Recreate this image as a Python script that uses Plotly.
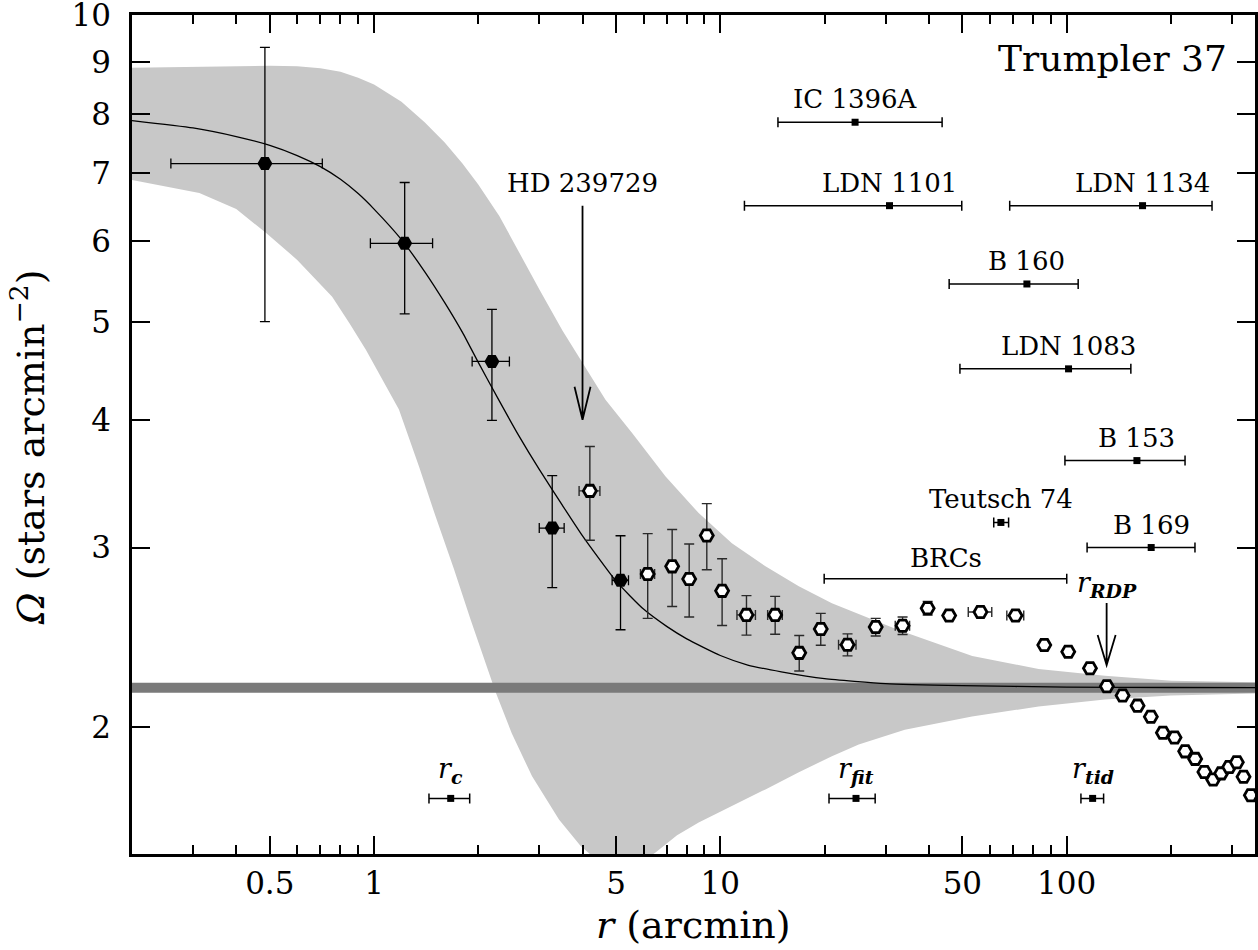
import numpy as np
import plotly.graph_objects as go

# ---------------- data ----------------
# inner (filled) profile points
r_inner = [0.484, 1.226, 2.19, 3.27, 5.15]
r_inner_err = [0.225, 0.25, 0.27, 0.27, 0.28]
dens_inner = [7.15, 5.97, 4.57, 3.135, 2.786]
dens_inner_err = [2.15, 0.88, 0.57, 0.395, 0.295]

# outer (open) profile points
r_outer = [4.20, 6.17, 7.26, 8.13, 9.14, 10.12, 11.9, 14.4, 16.9, 19.5, 23.3, 28.1,
           33.6, 39.7, 45.8, 56.4, 71.2, 86.2, 101.1, 116.8, 130.7, 145.1, 160.3,
           175.1, 189.7, 205.0, 220.0, 235.1, 250.0, 265.0, 279.5, 294.8, 310.2,
           324.3, 340.5]
r_outer_err = [0.29, 0.29, 0, 0, 0, 0, 0.73, 0.7, 0, 0, 1.35, 0, 1.6, 0, 0, 4.4, 4.0,
               0, 0, 0, 0, 0, 0, 0, 0, 0, 0, 0, 0, 0, 0, 0, 0, 0, 0]
dens_outer = [3.41, 2.826, 2.875, 2.794, 3.083, 2.72, 2.576, 2.576, 2.364, 2.495,
              2.408, 2.506, 2.514, 2.615, 2.572, 2.593, 2.572, 2.406, 2.370, 2.283,
              2.192, 2.147, 2.098, 2.046, 1.973, 1.952, 1.892, 1.860, 1.806, 1.775,
              1.800, 1.826, 1.846, 1.786, 1.713]
dens_outer_err = [0.36, 0.27, 0.25, 0.23, 0.23, 0.205, 0.115, 0.11, 0.095, 0.09,
                  0.06, 0.05, 0.05, 0.04, 0.02, 0.02, 0.02, 0, 0, 0, 0, 0, 0, 0, 0,
                  0, 0, 0, 0, 0, 0, 0, 0, 0, 0]

# King-profile fit curve
fit_r = [0.2, 0.3, 0.4, 0.5, 0.6, 0.7, 0.8, 0.9, 1.0, 1.2, 1.4, 1.6, 1.8, 2.0, 2.3,
         2.6, 3.0, 3.5, 4.0, 5.0, 6.0, 7.0, 8.0, 10, 12, 15, 20, 30, 50, 100, 200, 350]
fit_dens = [7.88, 7.75, 7.60, 7.45, 7.28, 7.10, 6.90, 6.68, 6.45, 6.02, 5.60, 5.22,
            4.88, 4.56, 4.18, 3.88, 3.58, 3.30, 3.08, 2.78, 2.61, 2.51, 2.44, 2.35,
            2.30, 2.265, 2.23, 2.205, 2.195, 2.188, 2.186, 2.185]

# 1-sigma envelope of the fit
env_up_r = [0.2, 0.3, 0.4, 0.5, 0.6, 0.7, 0.8, 0.9, 1.0, 1.2, 1.4, 1.6, 1.8, 2.0,
            2.3, 2.6, 3.0, 3.5, 4.0, 4.66, 5.57, 6.95, 8.66, 10.8, 13.5, 16.85, 21.0,
            26.2, 32.7, 53.4, 83, 129, 201, 350]
env_up = [8.88, 8.90, 8.91, 8.92, 8.91, 8.87, 8.80, 8.68, 8.55, 8.22, 7.85, 7.50,
          7.15, 6.82, 6.35, 5.88, 5.38, 4.90, 4.56, 4.19, 3.885, 3.523, 3.243, 3.03,
          2.875, 2.748, 2.645, 2.566, 2.49, 2.348, 2.279, 2.245, 2.219, 2.212]
env_lo_r = [0.2, 0.313, 0.4, 0.488, 0.6, 0.757, 0.85, 0.948, 1.05, 1.18, 1.35, 1.5,
            1.7, 1.9, 2.245, 2.5, 2.86, 3.42, 3.95, 4.5, 5.0, 5.7, 6.5, 7.5, 8.66,
            10.8, 13.5, 16.8, 21.0, 25.1, 34.1, 53.3, 83, 129, 200, 350]
env_lo = [6.89, 6.69, 6.45, 6.11, 5.75, 5.29, 4.98, 4.69, 4.40, 4.10, 3.60, 3.23,
          2.86, 2.55, 2.163, 1.97, 1.788, 1.622, 1.527, 1.47, 1.45, 1.46, 1.505,
          1.565, 1.611, 1.671, 1.736, 1.804, 1.871, 1.922, 1.987, 2.047, 2.094, 2.128,
          2.147, 2.157]

# background level
bg_level = 2.185
bg_halfwidth = 0.025
r_span = [0.2, 350]

# nearby objects (angular distance ranges)
obj_names = ["IC 1396A", "LDN 1101", "LDN 1134", "B 160", "LDN 1083", "B 153",
             "Teutsch 74", "B 169"]
obj_r = [24.5, 30.8, 165.7, 76.8, 101.3, 159.6, 64.6, 175.5]
obj_rmin = [14.67, 11.74, 68.5, 45.8, 49.2, 98.9, 61.6, 114.6]
obj_rmax = [43.7, 49.8, 263, 108, 153.3, 219.8, 68.0, 234.8]
obj_y = [7.85, 6.50, 6.50, 5.445, 4.494, 3.652, 3.175, 3.0]

brc_name = "BRCs"
brc_r = 44.7
brc_rmin = 19.95
brc_rmax = 100.1
brc_y = 2.796

# structural radii
rad_labels = ["c", "fit", "tid"]
rad_r = [1.665, 24.65, 118.9]
rad_rmin = [1.441, 20.6, 110.0]
rad_rmax = [1.889, 28.0, 127.9]
rad_y = 1.701

# arrows
hd_name = "HD 239729"
hd_r = 4.0
hd_tip = 4.006
hd_label_y = 6.84
rdp_r = 130.5
rdp_tip = 2.30
rdp_top = 2.645

x_major = [0.5, 1, 5, 10, 50, 100]
x_major_text = ["0.5", "1", "5", "10", "50", "100"]
x_minor = [0.3, 0.4, 0.6, 0.7, 0.8, 0.9, 2, 3, 4, 6, 7, 8, 9, 20, 30, 40, 60, 70,
           80, 90, 200, 300]
y_ticks = [2, 3, 4, 5, 6, 7, 8, 9, 10]

SERIF = "DejaVu Serif"
LIGHT = "#c8c8c8"
DARK = "#7a7a7a"

fig = go.Figure()

# envelope
fig.add_trace(go.Scatter(
    x=env_up_r + env_lo_r[::-1], y=env_up + env_lo[::-1],
    mode="lines", line=dict(width=0),
    fill="toself", fillcolor=LIGHT, hoverinfo="skip"))

# background band
fig.add_trace(go.Scatter(
    x=[r_span[0], r_span[1], r_span[1], r_span[0]],
    y=[bg_level - bg_halfwidth] * 2 + [bg_level + bg_halfwidth] * 2,
    mode="lines", line=dict(width=0), fill="toself", fillcolor=DARK,
    hoverinfo="skip"))

# fit
fig.add_trace(go.Scatter(
    x=fit_r, y=fit_dens, mode="lines",
    line=dict(color="black", width=1.3, shape="spline", smoothing=0.5)))


def seg(xc, xmin, xmax, yv, show_marker=True):
    xc = np.atleast_1d(xc).astype(float)
    xmin = np.atleast_1d(xmin).astype(float)
    xmax = np.atleast_1d(xmax).astype(float)
    return go.Scatter(
        x=xc, y=np.atleast_1d(yv).astype(float),
        mode="markers",
        marker=dict(symbol="square", size=7 if show_marker else 0.1, color="black",
                    line=dict(width=0)),
        error_x=dict(type="data", symmetric=False, array=xmax - xc,
                     arrayminus=xc - xmin, color="black", thickness=1.5, width=5))


fig.add_trace(seg(obj_r, obj_rmin, obj_rmax, obj_y))
fig.add_trace(seg([brc_r], [brc_rmin], [brc_rmax], [brc_y], show_marker=False))
fig.add_trace(seg(rad_r, rad_rmin, rad_rmax, [rad_y] * 3))

# filled points
fig.add_trace(go.Scatter(
    x=r_inner, y=dens_inner, mode="markers",
    marker=dict(symbol="hexagon2", size=15, color="black", line=dict(width=0)),
    error_y=dict(type="data", array=dens_inner_err, color="black", thickness=1.3, width=5),
    error_x=dict(type="data", array=r_inner_err, color="black", thickness=1.3, width=5)))

# open points
fig.add_trace(go.Scatter(
    x=r_outer, y=dens_outer, mode="markers",
    marker=dict(symbol="hexagon2", size=13, color="white",
                line=dict(width=2.8, color="black")),
    error_y=dict(type="data", array=dens_outer_err, color="#2a2a2a", thickness=1.4, width=5),
    error_x=dict(type="data", array=r_outer_err, color="#2a2a2a", thickness=1.4, width=5)))

# arrows (pixel paths anchored on the data tip; shapes take data values on log axes)
fig.add_shape(type="path", xref="x", yref="y", xsizemode="pixel", ysizemode="pixel",
              xanchor=hd_r, yanchor=hd_tip,
              path="M0,0 L0,214 M-8,33 L0,0 L8,33",
              line=dict(color="black", width=1.8), layer="above")
fig.add_shape(type="path", xref="x", yref="y", xsizemode="pixel", ysizemode="pixel",
              xanchor=rdp_r, yanchor=rdp_tip,
              path="M0,0 L0,62 M-9,30 L0,0 L9,30",
              line=dict(color="black", width=1.8), layer="above")

ann = []
for name, xc, yv in zip(obj_names, obj_r, obj_y):
    ann.append(dict(x=np.log10(xc), y=np.log10(yv), xref="x", yref="y", text=name,
                    showarrow=False, yshift=23, font=dict(family=SERIF, size=26, color="black")))
ann.append(dict(x=np.log10(brc_r), y=np.log10(brc_y), xref="x", yref="y", text=brc_name,
                showarrow=False, yshift=21, font=dict(family=SERIF, size=26, color="black")))
for lab, xc in zip(rad_labels, rad_r):
    ann.append(dict(x=np.log10(xc), y=np.log10(rad_y), xref="x", yref="y",
                    text="<i>r</i><sub><b><i>%s</i></b></sub>" % lab,
                    showarrow=False, yshift=28, font=dict(family=SERIF, size=27, color="black")))
ann.append(dict(x=np.log10(rdp_r), y=np.log10(rdp_top), xref="x", yref="y",
                text="<i>r</i><sub><b><i>RDP</i></b></sub>",
                showarrow=False, yshift=19, font=dict(family=SERIF, size=27, color="black")))
ann.append(dict(x=np.log10(hd_r), y=np.log10(hd_label_y), xref="x", yref="y", text=hd_name,
                showarrow=False, font=dict(family=SERIF, size=26, color="black")))
ann.append(dict(x=0.977, y=0.948, xref="paper", yref="paper", text="Trumpler 37",
                xanchor="right", yanchor="middle", showarrow=False,
                font=dict(family=SERIF, size=36, color="black")))
ann.append(dict(x=0.5, y=-0.0845, xref="paper", yref="paper", text="<i>r</i> (arcmin)",
                xanchor="center", yanchor="middle", showarrow=False,
                font=dict(family=SERIF, size=38, color="black")))
ann.append(dict(x=-0.0926, y=0.484, xref="paper", yref="paper",
                text="<i>Ω</i> (stars arcmin<sup>−2</sup>)", textangle=-90,
                xanchor="center", yanchor="middle", showarrow=False,
                font=dict(family=SERIF, size=38, color="black")))

fig.update_layout(
    template="none",
    width=1258, height=950,
    margin=dict(l=132, r=3, t=15, b=96, autoexpand=False),
    plot_bgcolor="white", paper_bgcolor="white",
    showlegend=False, annotations=ann,
    xaxis=dict(type="log", range=[np.log10(0.2), np.log10(350)], automargin=False,
               tickmode="array", tickvals=x_major, ticktext=x_major_text,
               ticks="inside", ticklen=18, tickwidth=1.5, tickcolor="black",
               showline=True, linecolor="black", linewidth=2.5, mirror="allticks",
               showgrid=False, zeroline=False, ticklabeloverflow="allow",
               tickfont=dict(family=SERIF, size=31, color="black"),
               minor=dict(tickmode="array", tickvals=x_minor, ticks="inside", ticklen=9,
                          tickwidth=1.5, tickcolor="black", showgrid=False)),
    yaxis=dict(type="log", range=[np.log10(1.5), 1.0002], automargin=False,
               tickmode="array", tickvals=y_ticks, ticktext=[str(v) for v in y_ticks],
               ticks="inside", ticklen=18, tickwidth=1.5, tickcolor="black",
               showline=True, linecolor="black", linewidth=2.5, mirror="allticks",
               showgrid=False, zeroline=False, ticklabelstandoff=12,
               ticklabeloverflow="allow",
               tickfont=dict(family=SERIF, size=31, color="black")),
)

fig.write_html("out.html", config={"displayModeBar": False},
               post_script="document.body.style.margin='0px';")
